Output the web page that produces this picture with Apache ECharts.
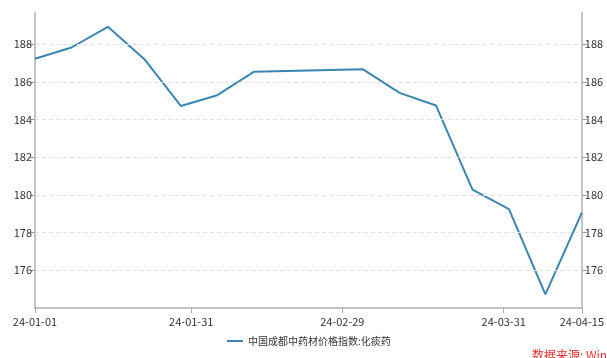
<!DOCTYPE html>
<html>
<head>
<meta charset="utf-8">
<script src="https://cdn.jsdelivr.net/npm/echarts@6/dist/echarts.min.js"></script>
<style>
  html, body { margin: 0; padding: 0; background: #fff; }
  #chart { width: 607px; height: 358px; }
</style>
</head>
<body>
<div id="chart"></div>
<script>
// Weekly index readings (YYYY-MM-DD) and values
const dates = [
  '2024-01-01', '2024-01-08', '2024-01-15', '2024-01-22', '2024-01-29',
  '2024-02-05', '2024-02-12', '2024-03-04', '2024-03-11', '2024-03-18',
  '2024-03-25', '2024-04-01', '2024-04-08', '2024-04-15'
];
const values = [
  187.22, 187.82, 188.92, 187.20, 184.72,
  185.29, 186.53, 186.66, 185.41, 184.74,
  180.28, 179.24, 174.72, 179.06
];
const xTickDates = ['2024-01-01', '2024-01-31', '2024-02-29', '2024-03-31', '2024-04-15'];
const yTicks = [176, 178, 180, 182, 184, 186, 188];
const seriesName = '中国成都中药材价格指数:化痰药';
const sourceText = '数据来源: Wind';

function toTime(s) {
  const p = s.split('-').map(Number);
  return new Date(p[0], p[1] - 1, p[2]).getTime();
}
function pad(n) { return (n < 10 ? '0' : '') + n; }
function fmtDate(v) {
  const d = new Date(v);
  return String(d.getFullYear()).slice(2) + '-' + pad(d.getMonth() + 1) + '-' + pad(d.getDate());
}

const seriesData = dates.map((d, i) => [toTime(d), values[i]]);
const xTicks = xTickDates.map(toTime);

const FONT = '"Noto Sans CJK SC", "Noto Sans", sans-serif';
const LINE_COLOR = '#3b86b0';

const yAxisBase = {
  type: 'value',
  min: 174,
  max: 189.65,
  interval: 2,
  axisLine: { show: true, lineStyle: { color: '#c4c4c4', width: 2 } },
  axisTick: { show: true, length: 5, customValues: yTicks, lineStyle: { color: '#999' } },
  axisLabel: { customValues: yTicks, color: '#333', fontSize: 11, fontFamily: FONT, margin: 3 },
  splitLine: { show: false }
};

const chart = echarts.init(document.getElementById('chart'), null, { renderer: 'canvas' });
chart.setOption({
  animation: false,
  backgroundColor: '#fff',
  grid: { left: 35, right: 23, top: 13, bottom: 50, containLabel: false },
  xAxis: {
    // time values on a linear axis, labelled as dates
    type: 'value',
    min: toTime('2024-01-01'),
    max: toTime('2024-04-15'),
    scale: true,
    axisLine: { lineStyle: { color: '#b0b0b0', width: 1.5 } },
    axisTick: { show: true, length: 5, customValues: xTicks, lineStyle: { color: '#aaa' } },
    axisLabel: {
      customValues: xTicks,
      formatter: fmtDate,
      color: '#333',
      fontSize: 11,
      fontFamily: FONT,
      margin: 8,
      hideOverlap: false
    },
    splitLine: { show: false }
  },
  yAxis: [
    Object.assign({}, yAxisBase, { position: 'left' }),
    Object.assign({}, yAxisBase, { position: 'right' })
  ],
  legend: {
    bottom: 7,
    left: 222,
    icon: 'rect',
    itemWidth: 16,
    itemHeight: 2,
    itemGap: 10,
    textStyle: { color: '#333', fontSize: 10, fontFamily: FONT },
    data: [seriesName]
  },
  graphic: [{
    type: 'text',
    left: 532,
    top: 349,
    style: { text: sourceText, fill: '#e53030', fontSize: 12, fontFamily: FONT }
  }],
  series: [{
    name: seriesName,
    type: 'line',
    yAxisIndex: 0,
    data: seriesData,
    symbol: 'none',
    lineStyle: { color: LINE_COLOR, width: 2 },
    itemStyle: { color: LINE_COLOR },
    markLine: {
      silent: true,
      symbol: ['none', 'none'],
      label: { show: false },
      lineStyle: { color: '#e2e2e2', type: [4, 3], width: 1 },
      emphasis: { disabled: true },
      data: yTicks.map(v => ({ yAxis: v }))
    },
    z: 3
  }]
});
</script>
</body>
</html>
